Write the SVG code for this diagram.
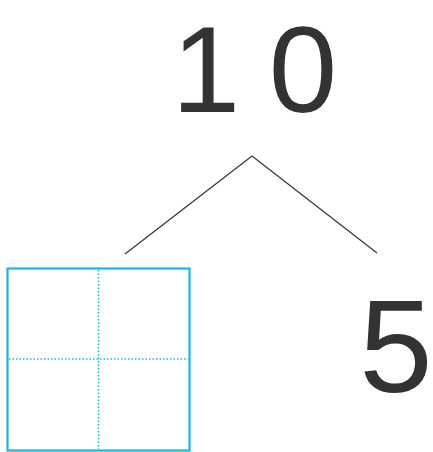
<svg xmlns="http://www.w3.org/2000/svg" width="433" height="452" viewBox="0 0 433 452">
<style>
.num{font-family:"Liberation Sans",Arial,sans-serif;fill:#333333;text-anchor:middle}
.edge{stroke:#333333;stroke-width:1.2;fill:none}
.box{fill:#ffffff;stroke:#19b4ea;stroke-width:2.2}
.guide{stroke:#19b4ea;stroke-width:1.5;stroke-dasharray:1.5 2;fill:none}
</style>
<rect width="433" height="452" fill="#ffffff"/>
<g id="connectors">
<path class="edge" d="M125,254 L252,156 L377,253"/>
</g>
<g id="node-10">
<text class="num" y="111.5" font-size="123"><tspan x="206">1</tspan><tspan x="303">0</tspan></text>
</g>
<g id="node-box">
<rect class="box" x="7.5" y="268.5" width="182" height="182"/>
<line class="guide" x1="98.5" y1="270" x2="98.5" y2="449"/>
<line class="guide" x1="9" y1="359" x2="188" y2="359"/>
</g>
<g id="node-5">
<text class="num" x="396" y="392" font-size="132">5</text>
</g>
</svg>
